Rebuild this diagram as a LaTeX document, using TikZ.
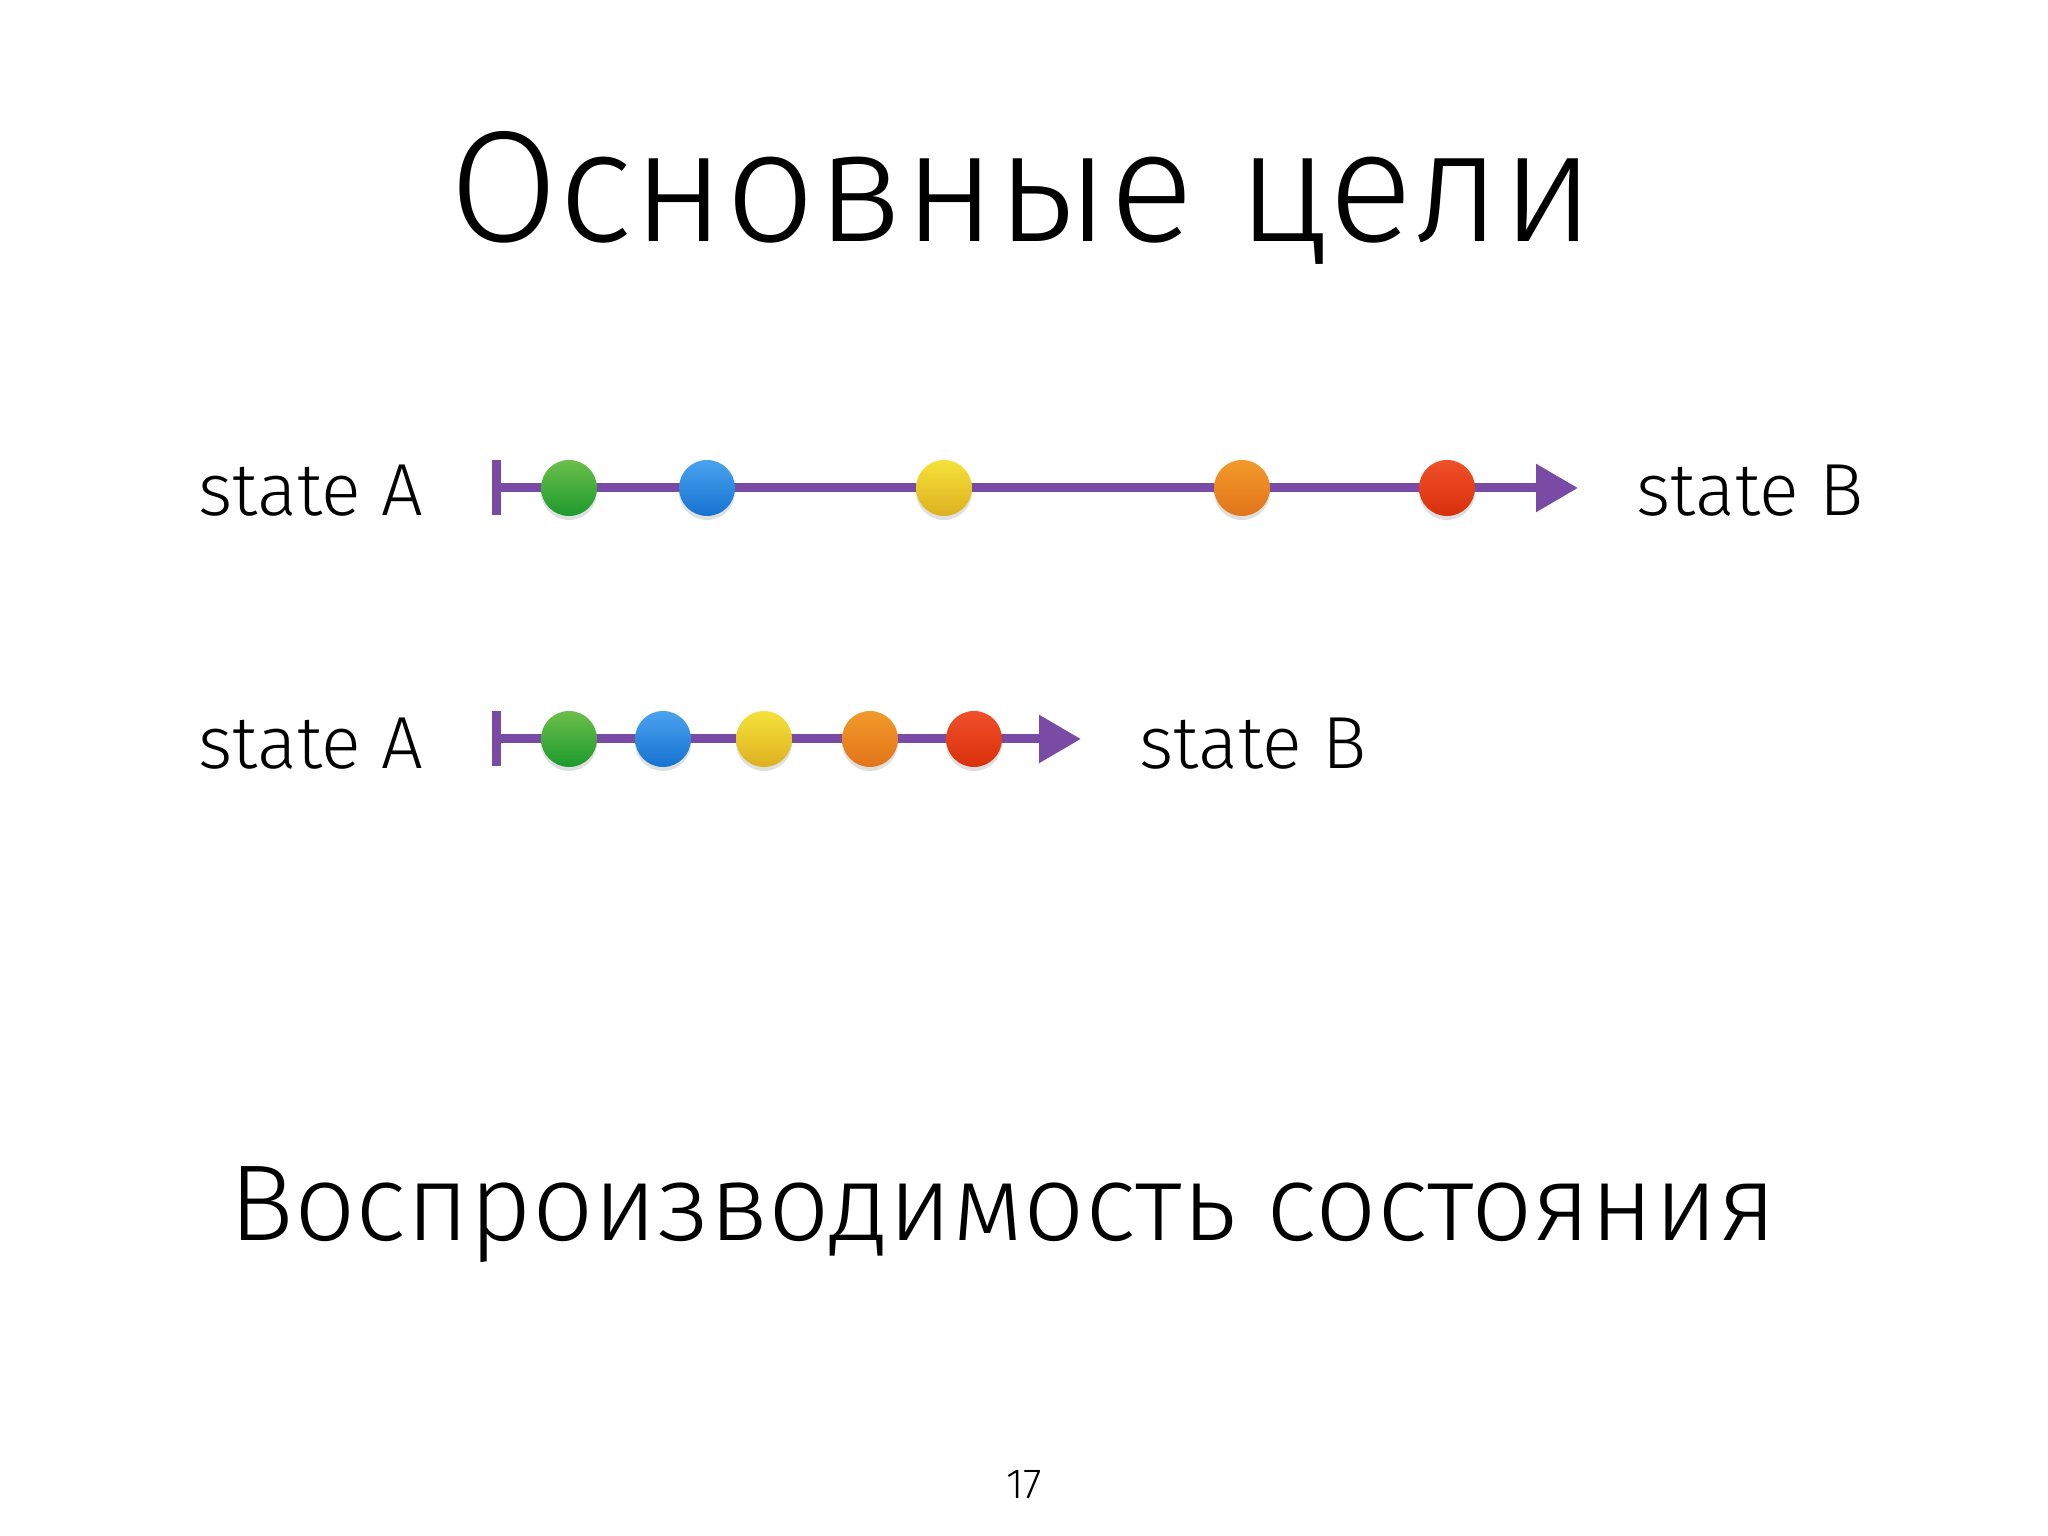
\documentclass[tikz,border=0pt]{standalone}
\usepackage{fontspec}
\setmainfont{Fira Sans}[UprightFont=* Light]
\usepackage{tikz}
\usetikzlibrary{positioning,arrows.meta,shadows}

\definecolor{chalk}{HTML}{7A4BA5}
\definecolor{gtop}{HTML}{6CBF4A}\definecolor{gbot}{HTML}{1C9A2C}
\definecolor{btop}{HTML}{4BA3EE}\definecolor{bbot}{HTML}{1572D0}
\definecolor{ytop}{HTML}{F5E23A}\definecolor{ybot}{HTML}{DDB020}
\definecolor{otop}{HTML}{F29A2A}\definecolor{obot}{HTML}{E2741A}
\definecolor{rtop}{HTML}{F0502A}\definecolor{rbot}{HTML}{D8300A}

\tikzset{
  ball/.style={circle, minimum size=0.56cm, inner sep=0pt,
    top color=#1top, bottom color=#1bot,
    drop shadow={shadow xshift=0pt, shadow yshift=-0.04cm, opacity=0.25}},
  chalkline/.style={line width=0.09cm, chalk,
    {Bar[width=0.55cm]}-{Triangle[length=0.42cm, width=0.46cm]}},
  statetext/.style={inner sep=0pt, font=\fontsize{21}{24}\selectfont}
}

\begin{document}
\begin{tikzpicture}
    \fill[white] (0,0) rectangle (20.48,15.36);
    \useasboundingbox (0,0) rectangle (20.48,15.36);

    \node[inner sep=0pt, anchor=base, font=\fontsize{45}{52}\selectfont] (title) at (10.22,12.94) {Основные цели};

    % long path
    \coordinate (r1s) at (4.92,10.48);
    \coordinate (r1e) at (15.78,10.48);
    \draw[chalkline] (r1s) -- (r1e);
    \foreach \x/\c [count=\i] in {5.69/g, 7.07/b, 9.44/y, 12.42/o, 14.47/r}
        \node[ball=\c] (r1b\i) at (\x,10.48) {};
    \node[statetext, anchor=base east] (r1a) at (4.24,10.20) {state A};
    \node[statetext, anchor=base west] (r1b) at (16.36,10.20) {state B};

    % short path
    \coordinate (r2s) at (4.92,7.97);
    \coordinate (r2e) at (10.81,7.97);
    \draw[chalkline] (r2s) -- (r2e);
    \foreach \x/\c [count=\i] in {5.69/g, 6.63/b, 7.64/y, 8.70/o, 9.74/r}
        \node[ball=\c] (r2b\i) at (\x,7.97) {};
    \node[statetext, anchor=base east] (r2a) at (4.24,7.67) {state A};
    \node[statetext, anchor=base west] (r2b) at (11.39,7.67) {state B};

    \node[inner sep=0pt, anchor=base, font=\fontsize{30.7}{36}\selectfont] (goal) at (10.03,2.95) {Воспроизводимость состояния};

    \node[inner sep=0pt, anchor=base, font=\fontsize{12}{14}\selectfont] (page) at (10.24,0.37) {17};
\end{tikzpicture}
\end{document}
